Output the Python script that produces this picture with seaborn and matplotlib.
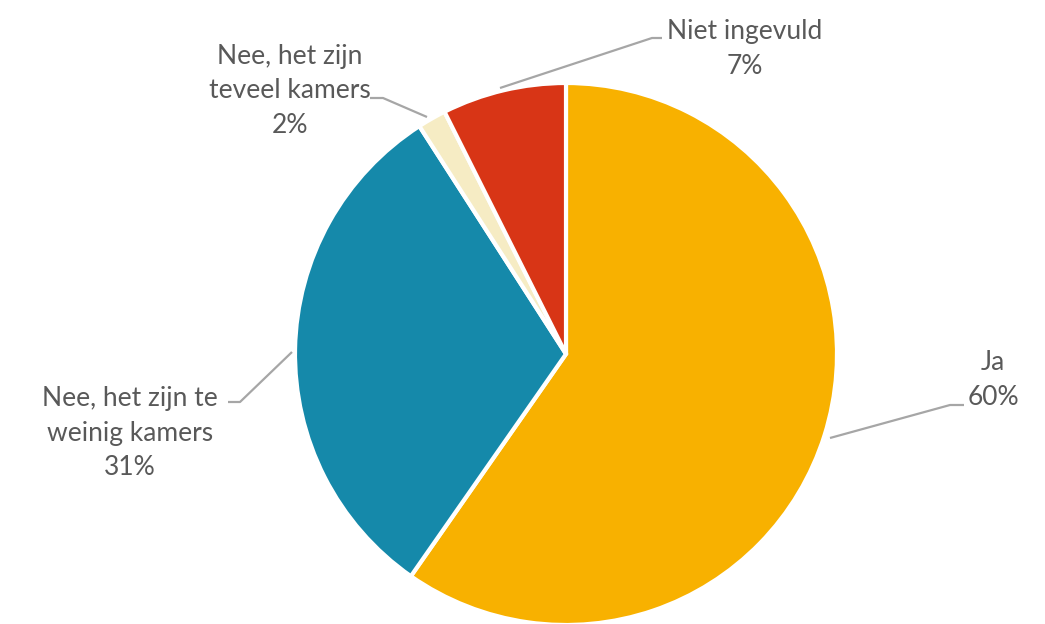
import matplotlib
matplotlib.use("Agg")
import matplotlib.pyplot as plt
import seaborn as sns

categories = ["Ja", "Nee, het zijn te\nweinig kamers", "Nee, het zijn\nteveel kamers", "Niet ingevuld"]
values = [59.7, 31.2, 1.7, 7.4]
colors = ["#F8B100", "#1589AA", "#F6ECC4", "#D83516"]

sns.set_theme(style="white")
plt.rcParams['font.family'] = ['Lato', 'DejaVu Sans']

W, H = 1045, 624
fig = plt.figure(figsize=(W / 100, H / 100), dpi=100)
ax = fig.add_axes([0, 0, 1, 1])

cx, cy, r = 566, H - 354, 271
ax.pie(values, colors=colors, startangle=90, counterclock=False,
       center=(cx, cy), radius=r, frame=True,
       wedgeprops=dict(edgecolor="white", linewidth=3))
ax.set_xlim(0, W)
ax.set_ylim(0, H)
ax.set_aspect("equal")
ax.axis("off")

txt_color = "#595959"
line_color = "#A6A6A6"
fs = 19

# label layout: (text center x, text center y in px), leader polyline points in px
layout = [
    ((993, 380), [(830, 438), (950, 405), (964, 405)]),
    ((130, 433), [(292, 352), (240, 402), (228, 402)]),
    ((290, 91), [(427, 117), (383, 98), (370, 98)]),
    ((745, 49), [(500, 88), (652, 38), (662, 38)]),
]

for cat, val, ((tx, ty), pts) in zip(categories, values, layout):
    ax.text(tx, H - ty, f"{cat}\n{round(val)}%", ha="center", va="center",
            color=txt_color, fontsize=fs, linespacing=1.48)
    xs = [p[0] for p in pts]
    ys = [H - p[1] for p in pts]
    ax.plot(xs, ys, color=line_color, linewidth=1.6, solid_capstyle="butt")

fig.savefig("out.png", dpi=100, facecolor="white")
